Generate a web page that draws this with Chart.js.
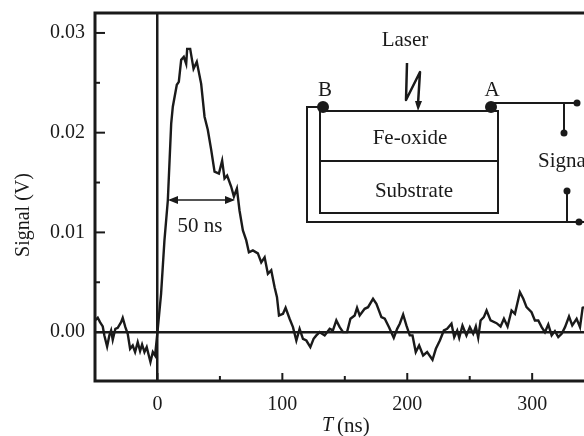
<!DOCTYPE html>
<html>
<head>
<meta charset="utf-8">
<title>Signal</title>
<script src="https://cdn.jsdelivr.net/npm/chart.js@4"></script>
<style>
  html, body { margin: 0; background: #fff; }
  canvas { display: block; filter: blur(0.5px); } /* l'original est un scan un peu flou */
</style>
</head>
<body>
<canvas id="chart" width="584" height="436"></canvas>
<script>
// temps en ns
const times = [-50, -47.8, -46, -43.8, -42.5, -40.3, -38.5, -37.1, -35.8, -33.7, -31.8, -29.1, -27.8, -25.7, -23.8, -21.9, -19.8, -17.9, -15.8, -13.9, -12.3, -10.4, -8.6, -5.6, -3.7, -1.9, 0,
  2.9, 5.6, 8.3, 11, 12.3, 15.5, 17.1, 19, 21.1, 23, 23.8, 26.2, 28.9, 31.5, 35, 37.7, 40.3, 43, 45.7, 49.2, 51.8, 53.7, 55.8, 59, 61.2, 63.6, 65.7, 68.4,
  71.1, 73.2, 76.4, 80.4, 83.1, 85.8, 88.4, 91.1, 93.8, 95.7, 97.3, 100.5, 102.6, 105.8, 108.5, 111.2, 113.8, 116.5, 119.2, 122.4, 125, 127.2, 129.9, 133.9, 137.9, 140.5, 143.2,
  145.9, 148.6, 151.8, 154.5, 157.9, 159.8, 161.9, 165.9, 168.6, 172.6, 175.3, 179.3, 182, 185.4, 189.2, 191.9, 194, 196.7, 199.3, 202, 204.2, 206.8, 209.5, 212.7, 215.9, 220.2, 222.9, 226.1, 229.3,
  231.9, 235.4, 237.6, 240, 241.6, 244.2, 247.4, 250.1, 252.8, 254.9, 256.8, 258.7, 261.3, 263.5, 266.7, 271.5, 274.7, 277.4, 280.3, 283.5, 286.2, 290.2, 292.9, 295.5, 299.5,
  302.2, 304.9, 307.6, 310.2, 312.9, 315.6, 318.2, 320.9, 323.6, 326.3, 329.5, 332.1, 335.6, 338.3, 340.4, 341.5];

// signal en V
const signal = [0.00117, 0.00144, 0.001, 0.00057, -0.00033, -0.00144, -0.00033, 0.00017, -0.00077, 0.00033, 0.00043, 0.001, 0.00144, 0.0005, -0.00017, -0.00167, -0.00134, -0.002, -0.001, -0.0019, -0.00124, -0.002, -0.0015, -0.003, -0.002, -0.00234, 0,
  0.00384, 0.0092, 0.0132, 0.0209, 0.0226, 0.0248, 0.0251, 0.0273, 0.0276, 0.0269, 0.0284, 0.0284, 0.0264, 0.0271, 0.0249, 0.0216, 0.0203, 0.0183, 0.0161, 0.0159, 0.0172, 0.0154, 0.0157, 0.0146, 0.0136, 0.0144, 0.0122, 0.0102,
  0.0092, 0.008, 0.0082, 0.0079, 0.007, 0.0075, 0.00585, 0.0062, 0.0045, 0.0035, 0.00167, 0.00184, 0.00244, 0.00134, 0.0005, -0.00084, 0.00033, -0.00067, -0.00084, -0.0015, -0.00067, -0.00033, 0, -0.00033, 0.00033, 0.00017, 0.00117,
  0.0005, 0, 0, 0.00134, 0.00167, 0.00244, 0.00167, 0.00234, 0.0025, 0.00334, 0.00284, 0.0015, 0.00134, 0.0005, -0.00057, 0.00033, 0.00084, 0.00177, 0.00067, -0.00033, -0.00033, -0.002, -0.00134, -0.00234, -0.002, -0.00277, -0.00167, -0.00084, 0.00017,
  0.00033, 0.00084, -0.0005, 0.00017, -0.00057, 0.00067, -0.00033, 0.0005, -0.00017, 0.00057, -0.00057, 0.00117, 0.0015, 0.00217, 0.00117, 0.0009, 0.00057, 0.00134, 0.00057, 0.00217, 0.00184, 0.004, 0.00334, 0.0025, 0.002,
  0.00117, 0.00117, 0.0005, 0, 0.00077, -0.00033, 0.0001, -0.0005, -0.00017, 0.0005, 0.00157, 0.00067, 0.00134, 0.0005, 0.00244, 0.0025];

const xLabels = [0, 100, 200, 300];
const xTicks = [-50, 0, 50, 100, 150, 200, 250, 300];
const yLabels = [0, 0.01, 0.02, 0.03];
const yTicks = [0, 0.005, 0.01, 0.015, 0.02, 0.025, 0.03];

const INK = '#1a1a1a';
const SERIF = '"Liberation Serif", serif';
const AXIS_SIZE = 20;
const INSET_SIZE = 21;

function text(ctx, str, x, y, size, align) {
  ctx.font = (size || INSET_SIZE) + 'px ' + SERIF;
  ctx.textAlign = align || 'center';
  ctx.textBaseline = 'middle';
  ctx.fillText(str, x, y);
}

function poly(ctx, pts, lw) {
  ctx.lineWidth = lw || 2;
  ctx.beginPath();
  pts.forEach(([x, y], i) => i ? ctx.lineTo(x, y) : ctx.moveTo(x, y));
  ctx.stroke();
}

function dot(ctx, x, y, r) {
  ctx.beginPath();
  ctx.arc(x, y, r, 0, Math.PI * 2);
  ctx.fill();
}

// cadre, ticks vers l'intérieur, schéma et textes
const frame = {
  id: 'frame',
  afterDraw(chart) {
    const { ctx, chartArea: a, scales: { x, y } } = chart;
    ctx.save();
    ctx.strokeStyle = INK;
    ctx.fillStyle = INK;
    ctx.lineJoin = 'miter';

    // ticks
    xTicks.slice(1).forEach(v => {
      const px = x.getPixelForValue(v);
      poly(ctx, [[px, a.bottom], [px, a.bottom - (xLabels.includes(v) ? 8 : 5)]], 2);
    });
    yTicks.forEach(v => {
      const py = y.getPixelForValue(v);
      poly(ctx, [[a.left, py], [a.left + (yLabels.includes(v) ? 10 : 5), py]], 2);
    });

    // cadre (le bord droit sort de l'image)
    poly(ctx, [[a.right, a.top], [a.left, a.top], [a.left, a.bottom], [a.right, a.bottom]], 3);

    // titre de l'axe y, placé à la main car il n'est pas centré
    ctx.save();
    ctx.translate(24, 215);
    ctx.rotate(-Math.PI / 2);
    text(ctx, 'Signal (V)', 0, 0, AXIS_SIZE);
    ctx.restore();

    // titre de l'axe x, T en italique
    ctx.font = 'italic ' + AXIS_SIZE + 'px ' + SERIF;
    ctx.textAlign = 'left';
    ctx.textBaseline = 'middle';
    ctx.fillText('T', 322, 426);
    text(ctx, '(ns)', 337, 426, INSET_SIZE, 'left');

    // largeur à mi-hauteur
    poly(ctx, [[170, 200], [233, 200]], 1.5);
    [[168, 1], [235, -1]].forEach(([tip, d]) => {
      ctx.beginPath();
      ctx.moveTo(tip, 200);
      ctx.lineTo(tip + d * 10, 196);
      ctx.lineTo(tip + d * 10, 204);
      ctx.fill();
    });
    text(ctx, '50 ns', 200, 226);

    // schéma
    poly(ctx, [[320, 111], [498, 111], [498, 213], [320, 213], [320, 111]], 2);
    poly(ctx, [[320, 161], [498, 161]], 2);
    poly(ctx, [[323, 107], [307, 107], [307, 222], [584, 222]], 2);
    poly(ctx, [[491, 103], [577, 103]], 2);
    poly(ctx, [[564, 103], [564, 133]], 2);
    poly(ctx, [[567, 222], [567, 191]], 2);
    dot(ctx, 323, 107, 6);
    dot(ctx, 491, 107, 6);
    dot(ctx, 577, 103, 3.5);
    dot(ctx, 564, 133, 3.5);
    dot(ctx, 567, 191, 3.5);
    dot(ctx, 579, 222, 3.5);

    // laser
    ctx.lineJoin = 'round';
    poly(ctx, [[407, 63], [406, 100], [420, 72], [418, 104]], 2.5);
    ctx.beginPath();
    ctx.moveTo(418, 111);
    ctx.lineTo(415, 101);
    ctx.lineTo(422, 101);
    ctx.fill();

    text(ctx, 'Laser', 405, 40.5);
    text(ctx, 'B', 325, 90);
    text(ctx, 'A', 492, 90);
    text(ctx, 'Fe-oxide', 410, 138);
    text(ctx, 'Substrate', 414, 191);
    text(ctx, 'Signal', 538, 161, INSET_SIZE, 'left');
    ctx.restore();
  }
};

new Chart(document.getElementById('chart'), {
  type: 'scatter',
  data: {
    datasets: [{
      data: times.map((t, i) => ({ x: t, y: signal[i] })),
      showLine: true,
      borderColor: INK,
      borderWidth: 2.4,
      pointRadius: 0,
      tension: 0,
    }]
  },
  options: {
    responsive: false,
    animation: false,
    layout: { padding: { top: 13, left: 0, right: 0, bottom: 0 } },
    plugins: { legend: { display: false }, tooltip: { enabled: false } },
    scales: {
      x: {
        type: 'linear',
        min: -50,
        max: 341.5,
        afterBuildTicks: s => { s.ticks = xTicks.map(value => ({ value })); },
        afterFit: s => { s.height = 55; s.paddingLeft = 0; s.paddingRight = 0; },
        border: { display: false },
        grid: {
          drawTicks: false,
          lineWidth: 2.5,
          color: c => (c.tick && c.tick.value === 0 ? INK : 'transparent'),
        },
        ticks: {
          padding: 12,
          autoSkip: false,
          maxRotation: 0,
          color: INK,
          font: { family: SERIF, size: AXIS_SIZE },
          callback: v => (xLabels.includes(v) ? String(v) : ''),
        },
      },
      y: {
        min: -0.0049,
        max: 0.032,
        afterBuildTicks: s => { s.ticks = yTicks.map(value => ({ value })); },
        afterFit: s => { s.width = 95; s.paddingTop = 0; s.paddingBottom = 0; },
        border: { display: false },
        grid: {
          drawTicks: false,
          lineWidth: 2.5,
          color: c => (c.tick && c.tick.value === 0 ? INK : 'transparent'),
        },
        ticks: {
          padding: 10,
          autoSkip: false,
          color: INK,
          font: { family: SERIF, size: AXIS_SIZE },
          callback: v => (yLabels.includes(v) ? v.toFixed(2) : ''),
        },
      },
    },
  },
  plugins: [frame],
});
</script>
</body>
</html>
